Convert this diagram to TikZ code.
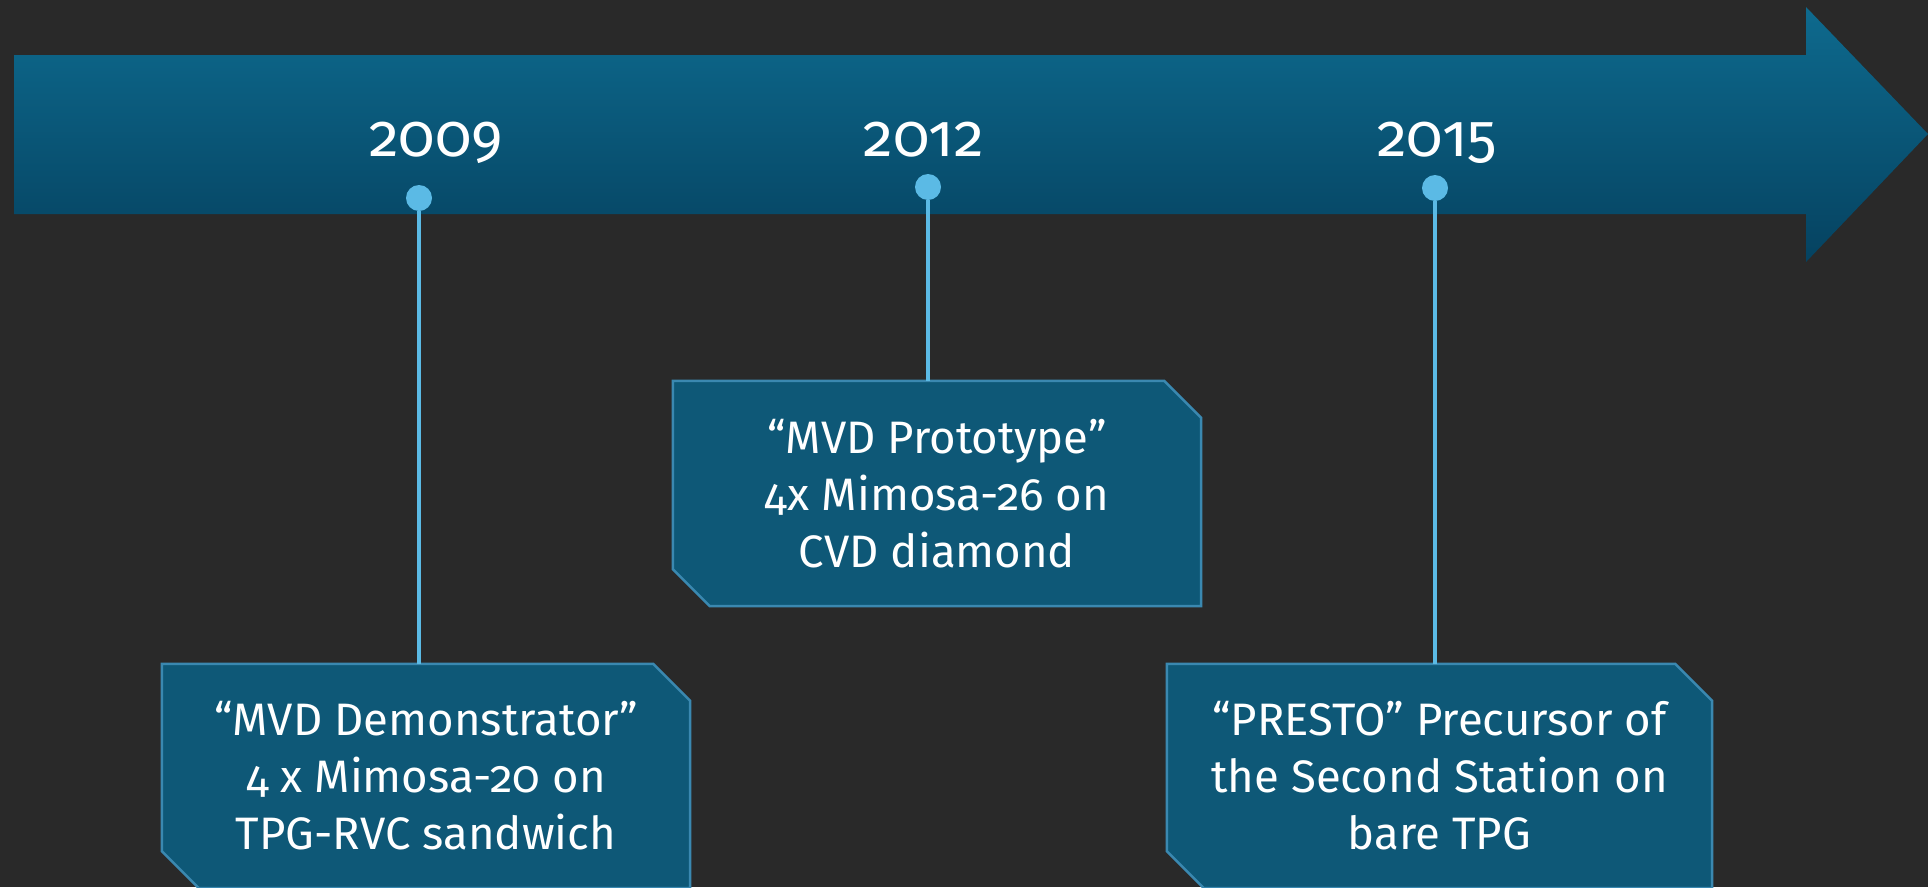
\documentclass[tikz,border=0pt]{standalone}
\usepackage{fontspec}
\setmainfont[Numbers=OldStyle]{Fira Sans}
\usetikzlibrary{backgrounds,calc}
\definecolor{bgc}{HTML}{292929}
\definecolor{arrowtop}{HTML}{0E6A8E}
\definecolor{arrowbot}{HTML}{054260}
\definecolor{dotc}{HTML}{5BBAE5}
\definecolor{boxfill}{HTML}{0E5877}
\definecolor{boxline}{HTML}{3A88B0}
\newcommand\chambox[1]{%
  \fill[boxfill,draw=boxline,line width=2.5pt,line join=miter]
    (#1.north west) -- ([xshift=-37pt]#1.north east) -- ([yshift=-37pt]#1.north east)
    -- (#1.south east) -- ([xshift=37pt]#1.south west) -- ([yshift=37pt]#1.south west) -- cycle;}
\tikzset{
  yearlabel/.style={text=white,font=\fontsize{60}{72}\selectfont,anchor=base,inner sep=0pt},
  evbox/.style={rectangle,inner sep=0pt,text=white,align=center,
    font=\fontsize{45.5}{57}\selectfont,minimum height=224pt},
  tdot/.style={circle,fill=dotc,minimum size=26pt,inner sep=0pt},
  stem/.style={draw=dotc,line width=4pt}
}
\begin{document}
\begin{tikzpicture}[x=1pt,y=-1pt]
\useasboundingbox (0,0) rectangle (1928,887);
\begin{scope}[on background layer]
\fill[bgc] (0,0) rectangle (1928,887);
% timeline arrow
\shade[top color=arrowtop,bottom color=arrowbot]
  (14,55) -- (1806,55) -- (1806,7) -- (1928,134) -- (1806,262) -- (1806,214) -- (14,214) -- cycle;
\end{scope}
% year labels
\node[yearlabel] (y09) at (436,156) {2009};
\node[yearlabel] (y12) at (924,156) {2012};
\node[yearlabel] (y15) at (1437,156) {2015};
% event boxes
\node[evbox,minimum width=528pt] (b09) at (426,776) {“MVD Demonstrator”\\4 x Mimosa-20 on\\TPG-RVC sandwich};
\node[evbox,minimum width=528pt,minimum height=225pt] (b12) at (937,493.5) {“MVD Prototype”\\4x Mimosa-26 on\\CVD diamond};
\node[evbox,minimum width=545pt] (b15) at (1439.5,776) {“PRESTO” Precursor of\\the Second Station on\\bare TPG};
\begin{scope}[on background layer]
  \chambox{b09}
  \chambox{b12}
  \chambox{b15}
\end{scope}
% dots
\node[tdot] (d09) at (419,198) {};
\node[tdot] (d12) at (928,187) {};
\node[tdot] (d15) at (1435,188) {};
% stems
\draw[stem] (d09) -- (d09 |- b09.north);
\draw[stem] (d12) -- (d12 |- b12.north);
\draw[stem] (d15) -- (d15 |- b15.north);
\end{tikzpicture}
\end{document}
